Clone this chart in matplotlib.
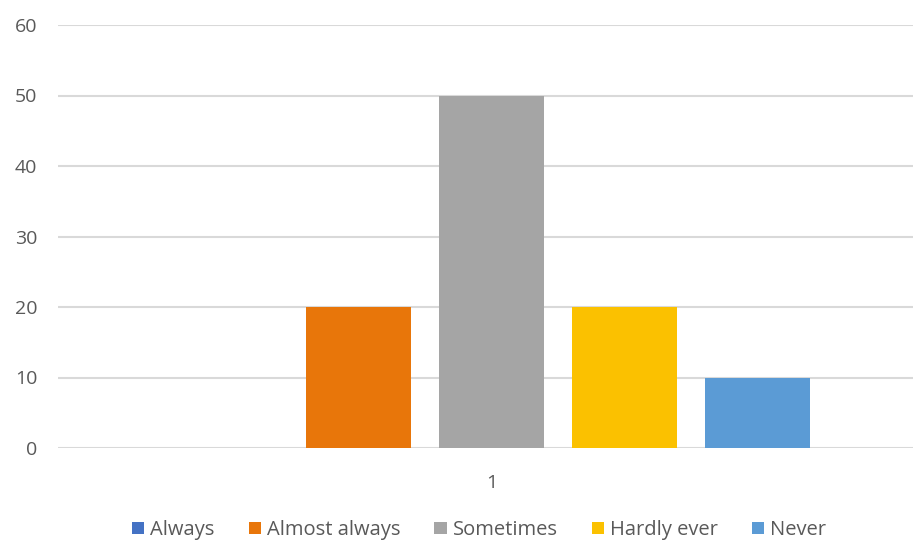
import numpy as np
import matplotlib.pyplot as plt
from matplotlib.patches import Patch

# ---- data ----
categories = ["1"]
series = ["Always", "Almost always", "Sometimes", "Hardly ever", "Never"]
values = [0, 20, 50, 20, 10]
colors = ["#4472c4", "#e8760a", "#a5a5a5", "#fbc100", "#5b9bd5"]
yticks = [0, 10, 20, 30, 40, 50, 60]

plt.rcParams["font.family"] = ["Open Sans", "DejaVu Sans"]
TXT = "#595959"

W, H = 913, 541
fig = plt.figure(figsize=(W / 100, H / 100), dpi=100)
left, right = 58, 925
bottom, top = 448, 25
ax = fig.add_axes([left / W, 1 - bottom / H, (right - left) / W, (bottom - top) / H])

bw = 0.121
step = 0.1534
n = len(series)
for j, (s, v, c) in enumerate(zip(series, values, colors)):
    x = 1 + (j - (n - 1) / 2) * step
    ax.bar(x, v, bw, color=c, label=s, zorder=3)

ax.set_xlim(0.5, 1.5)
ax.set_ylim(0, 60)
ax.set_yticks(yticks)
ax.set_xticks([1])
ax.set_xticklabels(categories)
for sp in ax.spines.values():
    sp.set_visible(False)
ax.yaxis.grid(True, color="#d9d9d9", linewidth=1.5, zorder=0)
ax.set_axisbelow(True)
ax.tick_params(axis="both", length=0, labelsize=14, colors=TXT)
ax.tick_params(axis="y", pad=15)
ax.tick_params(axis="x", pad=19)

handles = [Patch(fc=c, label=s) for s, c in zip(series, colors)]
leg = fig.legend(handles=handles, loc="center", ncol=5,
                 bbox_to_anchor=(479 / W, 1 - 530 / H), frameon=False,
                 fontsize=14.5, handlelength=0.6, handleheight=0.6,
                 handletextpad=0.3, columnspacing=1.7)
for t in leg.get_texts():
    t.set_color(TXT)

fig.savefig("out.png", dpi=100)
